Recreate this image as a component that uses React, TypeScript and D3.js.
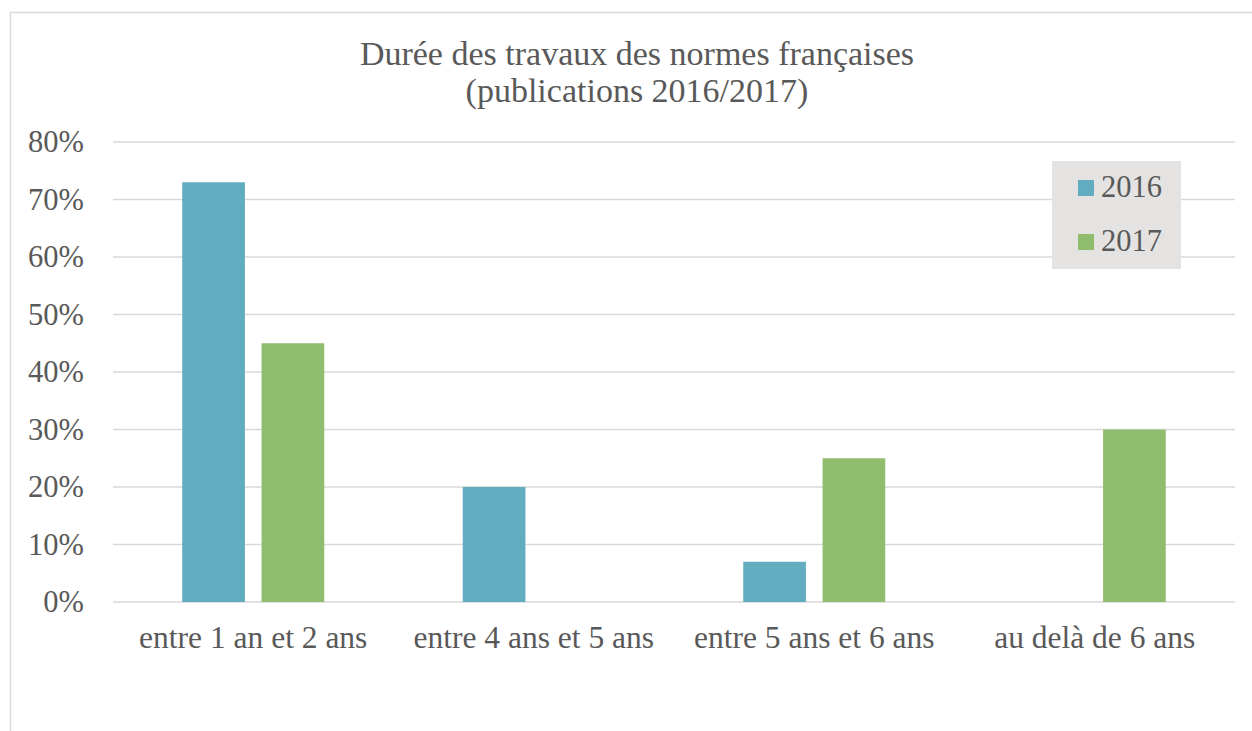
import React from "react";
import * as d3 from "d3";

const categories = ["entre 1 an et 2 ans", "entre 4 ans et 5 ans", "entre 5 ans et 6 ans", "au delà de 6 ans"];
const series = ["2016", "2017"];
const values2016 = [0.73, 0.2, 0.07, 0];
const values2017 = [0.45, 0, 0.25, 0.3];
const yTicks = [0, 0.1, 0.2, 0.3, 0.4, 0.5, 0.6, 0.7, 0.8];
const titleLines = ["Durée des travaux des normes françaises", "(publications 2016/2017)"];

const colors = ["#62acc0", "#8fbc6f"];
const textColor = "#595959";
const font = "'Liberation Serif', serif";

const W = 1252;
const H = 731;
const plot = { left: 113, right: 1235, top: 142, bottom: 602 };

const App = () => {
  const x = d3.scaleBand().domain(categories).range([plot.left, plot.right]);
  const x1 = d3.scaleBand().domain(series).range([0, 142]).paddingInner(0.21);
  const y = d3.scaleLinear().domain([0, 0.8]).range([plot.bottom, plot.top]);
  const data = [values2016, values2017];
  const fmt = d3.format(".0%");

  return (
    <svg width={W} height={H} style={{ position: "absolute", left: 0, top: 0, fontFamily: font }}>
      <rect x={10.5} y={12.5} width={1300} height={800} fill="#fff" stroke="#d9d9d9" strokeWidth={1.5} />
      {titleLines.map((t, i) => (
        <text key={t} x={637} y={65 + i * 37} textAnchor="middle" fontSize={34} fill={textColor}>
          {t}
        </text>
      ))}
      {yTicks.map((t) => (
        <g key={t}>
          <line x1={plot.left} x2={plot.right} y1={y(t)} y2={y(t)} stroke="#d9d9d9" strokeWidth={1.5} />
          <text x={84} y={y(t) + 10} textAnchor="end" fontSize={30.5} fill={textColor}>
            {fmt(t)}
          </text>
        </g>
      ))}
      {categories.map((c, i) => {
        const cx = (x(c) as number) + x.bandwidth() / 2;
        return (
          <g key={c}>
            {series.map((s, j) => {
              const v = data[j][i];
              if (!v) return null;
              const bx = cx - 71 + (x1(s) as number);
              return <rect key={s} x={bx} y={y(v)} width={x1.bandwidth()} height={y(0) - y(v)} fill={colors[j]} />;
            })}
            <text x={cx} y={648} textAnchor="middle" fontSize={31.5} fill={textColor}>
              {c}
            </text>
          </g>
        );
      })}
      <rect x={1052} y={161} width={129} height={108} fill="#e4e3e1" />
      {series.map((s, j) => (
        <g key={s}>
          <rect x={1078} y={180 + j * 54} width={16} height={16} fill={colors[j]} />
          <text x={1101} y={197 + j * 54} fontSize={30.5} fill={textColor}>
            {s}
          </text>
        </g>
      ))}
    </svg>
  );
};

export default App;
